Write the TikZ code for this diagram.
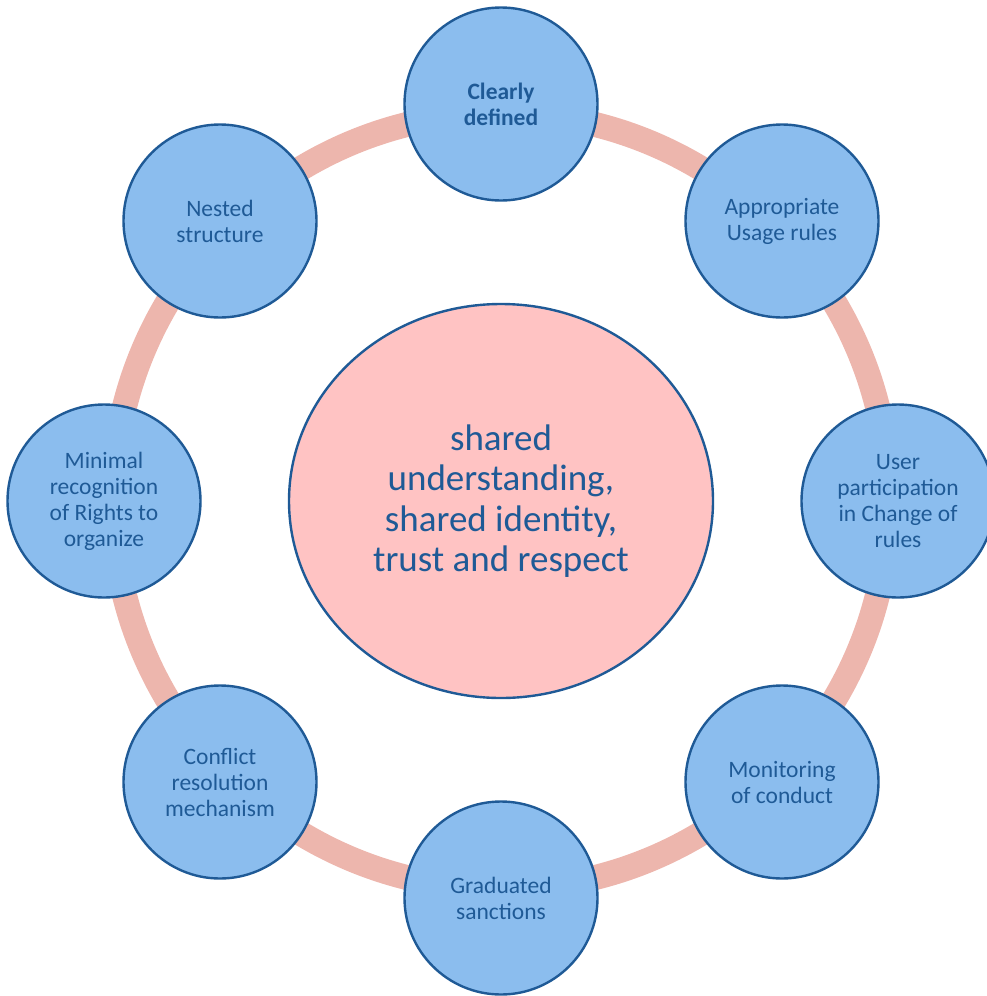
\documentclass[tikz,border=0pt]{standalone}
\usepackage{fontspec}
\setmainfont{Carlito}
\usetikzlibrary{shapes.geometric}
\definecolor{ringcol}{HTML}{EDB6AD}
\definecolor{bluefill}{HTML}{8BBDEE}
\definecolor{bluedark}{HTML}{1F5A96}
\definecolor{pinkfill}{HTML}{FFC3C3}
\tikzset{
  ringline/.style={draw=ringcol, line width=25pt},
  smallcirc/.style={circle, draw=bluedark, line width=2.4pt, fill=bluefill,
    minimum size=193pt, inner sep=0pt, align=center, text=bluedark,
    font=\fontsize{23.5}{26}\selectfont},
  bigcirc/.style={ellipse, draw=bluedark, line width=2.4pt, fill=pinkfill,
    minimum width=424pt, minimum height=394pt, inner sep=0pt, align=center,
    text=bluedark, font=\fontsize{37}{40.5}\selectfont}
}
\begin{document}
\begin{tikzpicture}[x=1pt,y=-1pt]
\useasboundingbox (0,0) rectangle (987,996);
\coordinate (c) at (501,501);
\draw[ringline] (c) circle (388);
\node[bigcirc] (core) at (c) {shared\\understanding,\\shared identity,\\trust and respect};
\node[smallcirc] (n1) at (501,104) {\textbf{Clearly}\\\textbf{defined}};
\node[smallcirc] (n2) at (782,221) {Appropriate\\Usage rules};
\node[smallcirc] (n3) at (898,501) {User\\participation\\in Change of\\rules};
\node[smallcirc] (n4) at (782,782) {Monitoring\\of conduct};
\node[smallcirc] (n5) at (501,898) {Graduated\\sanctions};
\node[smallcirc] (n6) at (220,782) {Conflict\\resolution\\mechanism};
\node[smallcirc] (n7) at (104,501) {Minimal\\recognition\\of Rights to\\organize};
\node[smallcirc] (n8) at (220,221) {Nested\\structure};
\end{tikzpicture}
\end{document}
